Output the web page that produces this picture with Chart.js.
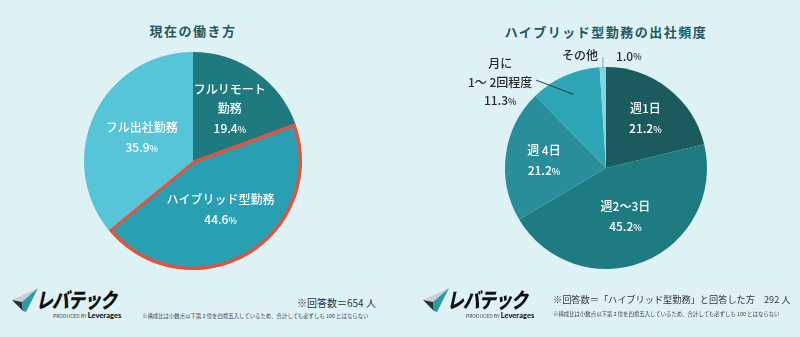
<!DOCTYPE html>
<html lang="ja">
<head>
    <meta charset="UTF-8">
    <title>現在の働き方 / ハイブリッド型勤務の出社頻度</title>
    <script src="https://cdn.jsdelivr.net/npm/chart.js"></script>
    <style>
        html, body { margin: 0; padding: 0; }
        body {
            width: 800px; height: 337px; overflow: hidden; position: relative;
            background: #def2f6;
            font-family: "Noto Sans CJK JP", "Noto Sans", sans-serif;
        }
        .abs { position: absolute; }
        .title {
            font-size: 13px; font-weight: 700; color: #25595e;
            letter-spacing: 1.5px; transform: translateX(-50%); white-space: nowrap;
        }
        .logo-text {
            font-size: 21px; font-weight: 900; color: #111; letter-spacing: -1px;
            transform-origin: left top; transform: skewX(-12deg) scaleX(0.8);
            white-space: nowrap; line-height: 1;
        }
        .produced { font-size: 5px; color: #444; white-space: nowrap; line-height: 1; }
        .produced b { font-family: "Lato", sans-serif; font-size: 7.5px; font-weight: 900; color: #111; }
        .count { font-size: 10px; color: #333; white-space: nowrap; line-height: 1; }
        .note { font-size: 5.4px; color: #444; white-space: nowrap; line-height: 1; }
    </style>
</head>
<body>
    <div class="abs title" style="left:193px; top:21px;">現在の働き方</div>
    <div class="abs title" style="left:606px; top:22px;">ハイブリッド型勤務の出社頻度</div>

    <canvas id="leftChart" class="abs" width="218" height="218" style="left:84px; top:52px;"></canvas>
    <canvas id="rightChart" class="abs" width="302" height="256" style="left:455px; top:40px;"></canvas>

    <!-- left logo -->
    <svg class="abs" style="left:12px; top:288px;" width="26" height="24" viewBox="0 0 26 24">
        <polygon points="0,12 26,0 10,14" fill="#c9cfd2"/>
        <polygon points="0,12 10,14 11,23" fill="#2b2f33"/>
        <polygon points="10,14 26,0 14,24 11,23" fill="#2a9aa5"/>
    </svg>
    <div class="abs logo-text" style="left:40px; top:289px;">レバテック</div>
    <div class="abs produced" style="left:53px; top:312px;">PRODUCED BY <b>Leverages</b></div>

    <div class="abs count" style="left:297px; top:298px;">※回答数＝654 人</div>
    <div class="abs note" style="left:142px; top:314px;">※構成比は小数点以下第 2 位を四捨五入しているため、合計しても必ずしも 100 とはならない</div>

    <!-- right logo -->
    <svg class="abs" style="left:423px; top:288px;" width="26" height="24" viewBox="0 0 26 24">
        <polygon points="0,12 26,0 10,14" fill="#c9cfd2"/>
        <polygon points="0,12 10,14 11,23" fill="#2b2f33"/>
        <polygon points="10,14 26,0 14,24 11,23" fill="#2a9aa5"/>
    </svg>
    <div class="abs logo-text" style="left:451px; top:289px;">レバテック</div>
    <div class="abs produced" style="left:466px; top:312px;">PRODUCED BY <b>Leverages</b></div>

    <div class="abs count" style="left:553px; top:295px; font-size:9.2px;">※回答数＝「ハイブリッド型勤務」と回答した方<span style="margin-left:9px;">292 人</span></div>
    <div class="abs note" style="left:553px; top:312px;">※構成比は小数点以下第 2 位を四捨五入しているため、合計しても必ずしも 100 とはならない</div>

    <script>
        // 現在の働き方
        const workLabels = [['フルリモート', '勤務'], ['ハイブリッド型勤務'], ['フル出社勤務']];
        const workValues = [19.4, 44.6, 35.9];
        const workColors = ['#1f7a80', '#28a0b2', '#55c5d7'];

        // ハイブリッド型勤務の出社頻度
        const freqLabels = [['週1日'], ['週2～3日'], ['週 4日'], ['月に', '1～ 2回程度'], ['その他']];
        const freqValues = [21.2, 45.2, 21.2, 11.3, 1.0];
        const freqColors = ['#1c5b5d', '#1f7b82', '#2a8d9a', '#2ea5b5', '#7fd5e3'];

        const FONT = '"Noto Sans CJK JP", "Noto Sans", sans-serif';

        // value with a smaller % sign, centred on x
        function drawValue(ctx, text, x, y, color) {
            ctx.fillStyle = color;
            ctx.textBaseline = 'middle';
            ctx.textAlign = 'left';
            ctx.font = '500 12px ' + FONT;
            const w1 = ctx.measureText(text).width;
            ctx.font = '500 9px ' + FONT;
            const w2 = ctx.measureText('%').width;
            const left = x - (w1 + w2) / 2;
            ctx.font = '500 12px ' + FONT;
            ctx.fillText(text, left, y);
            ctx.font = '500 9px ' + FONT;
            ctx.fillText('%', left + w1, y + 1);
        }

        function drawLines(ctx, lines, x, y, color) {
            ctx.fillStyle = color;
            ctx.textBaseline = 'middle';
            ctx.textAlign = 'center';
            ctx.font = '500 12px ' + FONT;
            lines.forEach((l, i) => ctx.fillText(l, x, y + i * 19));
        }

        const sliceLabels = {
            id: 'sliceLabels',
            afterDatasetsDraw(chart, args, opts) {
                const ctx = chart.ctx;
                const arcs = chart.getDatasetMeta(0).data;
                const values = chart.data.datasets[0].data;
                ctx.save();
                arcs.forEach((arc, i) => {
                    const p = arc.getProps(['x', 'y', 'startAngle', 'endAngle', 'outerRadius'], true);
                    const mid = (p.startAngle + p.endAngle) / 2;
                    const lines = opts.labels[i];
                    const val = values[i].toFixed(1);
                    const mode = (opts.modes || [])[i] || 'in';
                    if (mode === 'in') {
                        const r = p.outerRadius * opts.radius[i];
                        const cx = p.x + Math.cos(mid) * r;
                        const cy = p.y + Math.sin(mid) * r;
                        const n = lines.length + 1;
                        const top = cy - (n - 1) * 19 / 2;
                        drawLines(ctx, lines, cx, top, '#fff');
                        drawValue(ctx, val, cx, top + lines.length * 19 + 1, '#fff');
                    } else if (mode === 'leader') {
                        const r = p.outerRadius * 0.8;
                        const sx = p.x + Math.cos(mid) * r;
                        const sy = p.y + Math.sin(mid) * r;
                        const ex = sx - 37, ey = sy - 14;
                        ctx.strokeStyle = '#2b3a3c';
                        ctx.lineWidth = 1;
                        ctx.beginPath(); ctx.moveTo(sx, sy); ctx.lineTo(ex, ey); ctx.stroke();
                        const tx = ex - 36;
                        drawLines(ctx, lines, tx, ey - 17, '#2b2b2b');
                        drawValue(ctx, val, tx, ey + 20, '#2b2b2b');
                    } else if (mode === 'tick') {
                        const sx = p.x + Math.cos(mid) * (p.outerRadius - 2);
                        const sy = p.y + Math.sin(mid) * (p.outerRadius - 2);
                        const ey = sy - 12;
                        ctx.strokeStyle = '#8fa3a6';
                        ctx.lineWidth = 1;
                        ctx.beginPath(); ctx.moveTo(sx, sy); ctx.lineTo(sx, ey); ctx.stroke();
                        ctx.fillStyle = '#2b2b2b';
                        ctx.textBaseline = 'middle';
                        ctx.textAlign = 'right';
                        ctx.font = '500 12px ' + FONT;
                        ctx.fillText(lines[0], sx - 5, ey - 2);
                        const w1 = ctx.measureText(val).width;
                        ctx.font = '500 9px ' + FONT;
                        const w2 = ctx.measureText('%').width;
                        drawValue(ctx, val, sx + 13 + (w1 + w2) / 2, ey - 1, '#2b2b2b');
                    }
                });
                ctx.restore();
            }
        };

        function pieOptions(labelOpts, padding) {
            return {
                responsive: false,
                animation: false,
                layout: { padding: padding },
                plugins: {
                    legend: { display: false },
                    tooltip: { enabled: false },
                    sliceLabels: labelOpts
                }
            };
        }

        new Chart(document.getElementById('leftChart'), {
            type: 'pie',
            data: {
                labels: workLabels.map(l => l.join('')),
                datasets: [{
                    data: workValues,
                    backgroundColor: workColors,
                    borderColor: ['#1f7a80', '#e8503a', '#55c5d7'],
                    borderWidth: [0, 3, 0],
                    borderAlign: ['center', 'inner', 'center']
                }]
            },
            options: pieOptions({ labels: workLabels, radius: [0.59, 0.51, 0.52] }, 0),
            plugins: [sliceLabels]
        });

        new Chart(document.getElementById('rightChart'), {
            type: 'pie',
            data: {
                labels: freqLabels.map(l => l.join('')),
                datasets: [{
                    data: freqValues,
                    backgroundColor: freqColors,
                    borderWidth: 0
                }]
            },
            options: pieOptions({
                labels: freqLabels,
                radius: [0.63, 0.51, 0.62, 0.8, 1],
                modes: ['in', 'in', 'in', 'leader', 'tick']
            }, { left: 50, right: 50, top: 27, bottom: 27 }),
            plugins: [sliceLabels]
        });
    </script>
</body>
</html>
